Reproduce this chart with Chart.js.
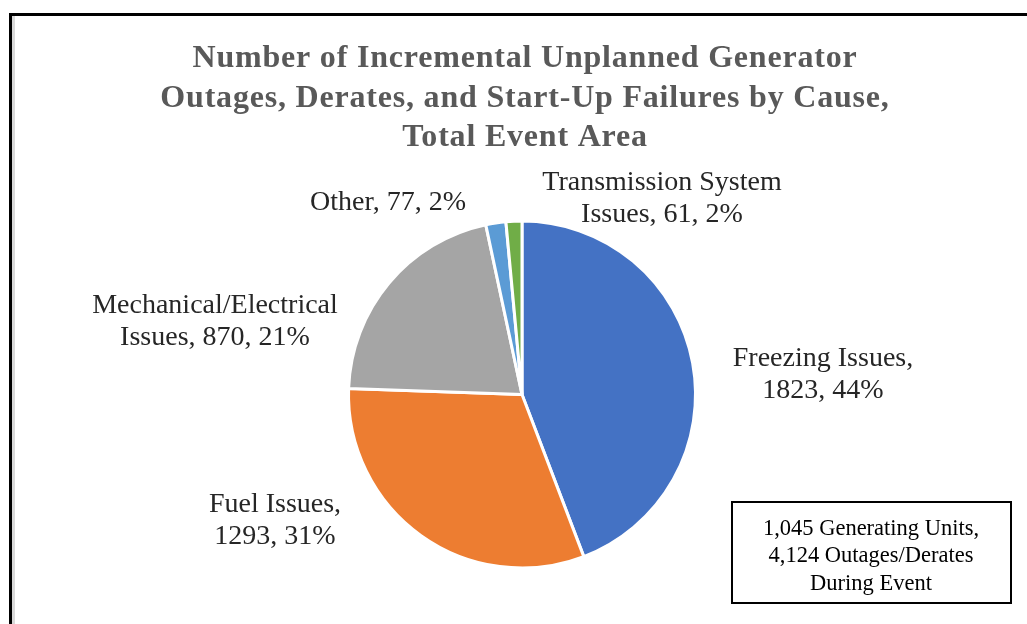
<!DOCTYPE html>
<html lang="en">
<head>
<meta charset="UTF-8">
<title>Incremental Unplanned Generator Outages by Cause</title>
<script src="https://cdn.jsdelivr.net/npm/chart.js"></script>
<style>
  html, body { margin: 0; padding: 0; background: #fff; overflow: hidden; }
  .frame {
    position: absolute; left: 9px; top: 13px; width: 1040px; height: 640px;
    border-left: 3px solid #000; border-top: 3px solid #000;
    box-shadow: inset 3px 0 0 #d9d9d9;
  }
  .wrap { position: absolute; left: 0; top: 0; width: 1027px; height: 624px; }
</style>
</head>
<body>
<div class="frame"></div>
<div class="wrap"><canvas id="Chart" width="1027" height="624"></canvas></div>
<script>
// data
const causes = ["Freezing Issues", "Fuel Issues", "Mechanical/Electrical Issues", "Other", "Transmission System Issues"];
const events = [1823, 1293, 870, 77, 61];
const percents = [44, 31, 21, 2, 2];
const labelLines = [
  ["Freezing Issues,", "1823, 44%"],
  ["Fuel Issues,", "1293, 31%"],
  ["Mechanical/Electrical", "Issues, 870, 21%"],
  ["Other, 77, 2%"],
  ["Transmission System", "Issues, 61, 2%"]
];
const titleLines = [
  "Number of Incremental Unplanned Generator",
  "Outages, Derates, and Start-Up Failures by Cause,",
  "Total Event Area"
];
const noteLines = ["1,045 Generating Units,", "4,124 Outages/Derates", "During Event"];

// layout
const sliceColors = ["#4472C4", "#ED7D31", "#A5A5A5", "#5B9BD5", "#70AD47"];
const labelOffsets = [[301, -20], [-247, 126], [-307, -73], [-134, -192], [140, -196]];

const textPlugin = {
  id: "texts",
  afterDraw(chart) {
    const ctx = chart.ctx;
    const arc = chart.getDatasetMeta(0).data[0];
    const cx = arc.x, cy = arc.y;
    ctx.save();
    ctx.textAlign = "center";
    ctx.textBaseline = "middle";

    ctx.fillStyle = "#595959";
    ctx.font = "bold 32px 'Liberation Serif', 'Times New Roman', serif";
    ctx.letterSpacing = "0.8px";
    titleLines.forEach((t, i) => ctx.fillText(t, 525, 59 + i * 39.5));
    ctx.letterSpacing = "0px";

    ctx.fillStyle = "#262626";
    ctx.font = "28px 'Liberation Serif', 'Times New Roman', serif";
    labelLines.forEach((lines, i) => {
      const [dx, dy] = labelOffsets[i];
      const h = 32;
      lines.forEach((t, j) => {
        ctx.fillText(t, cx + dx, cy + dy + (j - (lines.length - 1) / 2) * h);
      });
    });

    ctx.strokeStyle = "#000";
    ctx.lineWidth = 2;
    ctx.strokeRect(732, 502, 279, 101);
    ctx.fillStyle = "#000";
    ctx.font = "22.5px 'Liberation Serif', 'Times New Roman', serif";
    noteLines.forEach((t, i) => ctx.fillText(t, 871, 529 + i * 27.5));
    ctx.restore();
  }
};

new Chart(document.getElementById("Chart").getContext("2d"), {
  type: "pie",
  data: {
    labels: causes,
    datasets: [{
      data: events,
      backgroundColor: sliceColors,
      borderColor: "#ffffff",
      borderWidth: 3
    }]
  },
  options: {
    responsive: false,
    animation: false,
    events: [],
    layout: { padding: { left: 347, right: 330, top: 219, bottom: 54 } },
    plugins: {
      legend: { display: false },
      title: { display: false },
      tooltip: { enabled: false }
    }
  },
  plugins: [textPlugin]
});
</script>
</body>
</html>
